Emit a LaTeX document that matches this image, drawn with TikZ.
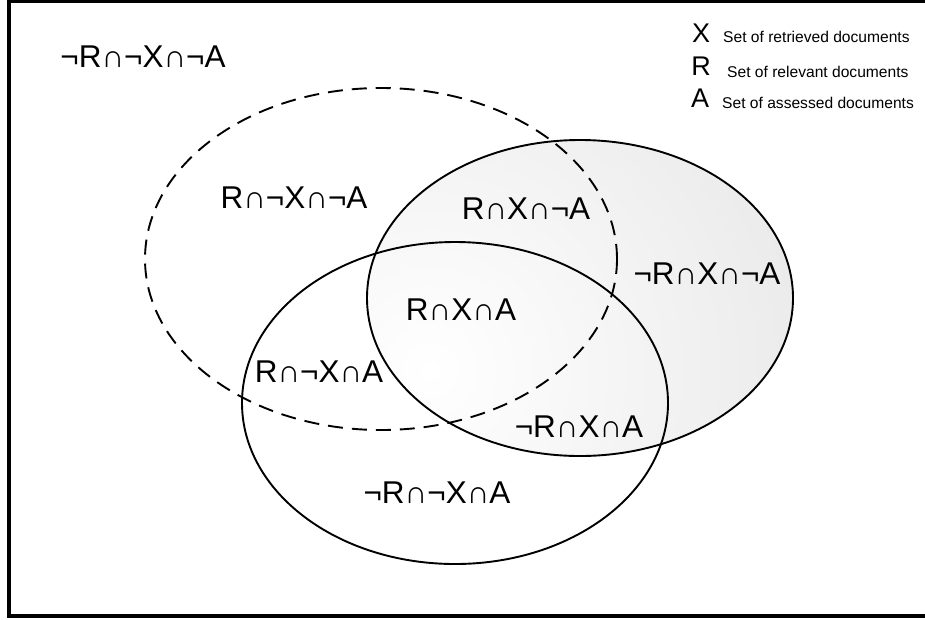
\documentclass[tikz,border=0pt]{standalone}
\usepackage{fontspec}
\setmainfont{Liberation Sans}
\begin{document}
\begin{tikzpicture}[x=1pt,y=-1pt,
  lbl/.style={font=\fontsize{31.5}{31.5}\selectfont, inner sep=0pt, anchor=center},
  legletter/.style={font=\fontsize{27}{27}\selectfont, inner sep=0pt, anchor=center},
  legtext/.style={font=\fontsize{15.6}{15.6}\selectfont, inner sep=0pt, anchor=base west},
  setline/.style={line width=1.9pt}]
\useasboundingbox (0,0) rectangle (925,619);
\clip (0,0) rectangle (925,619);
% frame
\draw[line width=4.5pt] (940,1) -- (9,1) -- (9,616) -- (940,616);
% X set: shaded ellipse
\begin{scope}
  \clip (580,298) ellipse [x radius=213pt, y radius=158pt];
  \shade[inner color=white, outer color=black!13] (430,370) circle [radius=620pt];
\end{scope}
\draw[setline] (580,298) ellipse [x radius=213pt, y radius=158pt];
% A set
\draw[setline] (455,403) ellipse [x radius=213pt, y radius=161pt];
% R set (dashed)
\draw[setline, dash pattern=on 15pt off 9pt] (381,259) ellipse [x radius=236pt, y radius=171pt];
% region labels
\node[lbl] (nnn) at (143,57) {¬R∩¬X∩¬A};
\node[lbl] (rnn) at (294,198) {R∩¬X∩¬A};
\node[lbl] (rxn) at (526,209) {R∩X∩¬A};
\node[lbl] (nxn) at (707,274) {¬R∩X∩¬A};
\node[lbl] (rxa) at (461,310) {R∩X∩A};
\node[lbl] (rna) at (319,372) {R∩¬X∩A};
\node[lbl] (nxa) at (579,427) {¬R∩X∩A};
\node[lbl] (nna) at (437,493) {¬R∩¬X∩A};
% legend
\node[legletter] (lx) at (701,33) {X};
\node[legletter] (lr) at (701,66) {R};
\node[legletter] (la) at (700,98) {A};
\node[legtext] (tx) at (723,42) {Set of retrieved documents};
\node[legtext] (tr) at (727,77) {Set of relevant documents};
\node[legtext] (ta) at (722,108) {Set of assessed documents};
\end{tikzpicture}
\end{document}
